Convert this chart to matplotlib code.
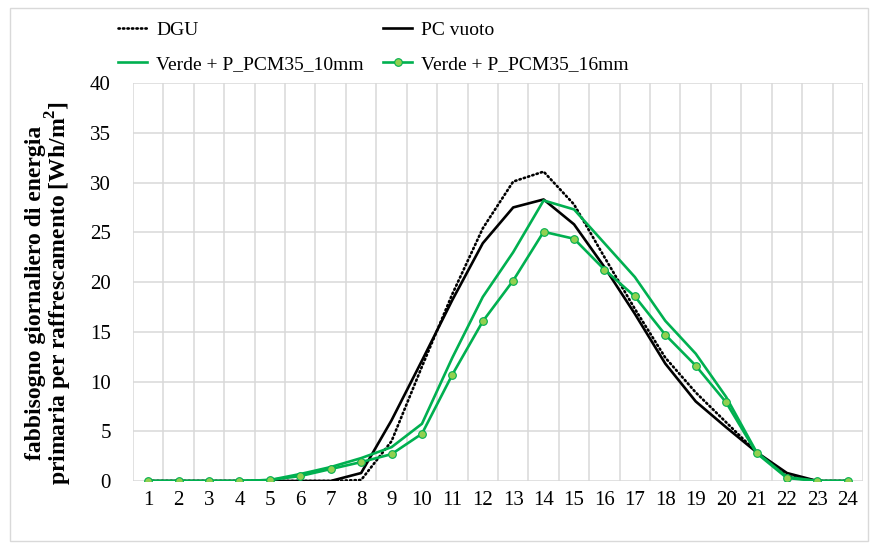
import numpy as np
import matplotlib.pyplot as plt
from matplotlib.patches import Rectangle

plt.rcParams['font.family'] = ['Liberation Serif', 'DejaVu Serif']
plt.rcParams['mathtext.fontset'] = 'custom'
plt.rcParams['mathtext.rm'] = 'Liberation Serif'
plt.rcParams['mathtext.bf'] = 'Liberation Serif:bold'

hours = list(range(1, 25))
dgu = [0, 0, 0, 0, 0, 0, 0, 0.1, 4.0, 11.5, 18.8, 25.4, 30.1, 31.1, 27.8, 22.5,
       17.3, 12.4, 8.9, 5.9, 2.9, 0.5, 0, 0]
pc_vuoto = [0, 0, 0, 0, 0, 0, 0, 0.8, 6.1, 12.1, 18.2, 23.9, 27.5, 28.3, 25.8, 21.5,
            16.8, 11.8, 8.0, 5.4, 2.9, 0.8, 0, 0]
verde_10 = [0, 0, 0, 0, 0.1, 0.7, 1.4, 2.3, 3.4, 5.75, 12.4, 18.5, 23.0, 28.2, 27.3, 23.9,
            20.5, 16.1, 12.8, 8.45, 2.9, 0.4, 0, 0]
verde_16 = [0, 0, 0, 0, 0.1, 0.5, 1.2, 1.9, 2.7, 4.75, 10.7, 16.05, 20.15, 25.05, 24.35, 21.25,
            18.55, 14.7, 11.6, 7.9, 2.8, 0.3, 0, 0]

green = '#00B050'
light_green = '#92D050'
grid_c = '#D9D9D9'

fig = plt.figure(figsize=(8.71, 5.43), dpi=100)
ax = fig.add_axes([0.1527, 0.1142, 0.8381, 0.7328])

l1, = ax.plot(hours, dgu, color='black', lw=1.9, linestyle=(0, (0.5, 1.2)),
              dash_capstyle='round', label='DGU')
l2, = ax.plot(hours, pc_vuoto, color='black', lw=1.9, label='PC vuoto')
l3, = ax.plot(hours, verde_10, color=green, lw=1.9, label='Verde + P_PCM35_10mm')
l4, = ax.plot(hours, verde_16, color=green, lw=1.9, marker='o', markersize=5.5,
              markerfacecolor=light_green, markeredgecolor=green, markeredgewidth=0.8,
              label='Verde + P_PCM35_16mm')

ax.set_xlim(0.5, 24.5)
ax.set_ylim(0, 40)
ax.set_xticks(hours)
ax.set_xticks(np.arange(0.5, 25, 1), minor=True)
ax.set_yticks(range(0, 41, 5))
ax.grid(which='minor', axis='x', color=grid_c, lw=1.1)
ax.grid(which='major', axis='y', color=grid_c, lw=1.1)
ax.tick_params(axis='both', which='both', length=0, labelsize=15)
ax.tick_params(axis='x', pad=7)
ax.tick_params(axis='y', pad=16)
for s in ax.spines.values():
    s.set_visible(False)
ax.set_axisbelow(True)

fig.text(0.057, 0.46, 'fabbisogno giornaliero di energia\nprimaria per raffrescamento [Wh/m$^\\mathbf{2}$]',
         rotation=90, ha='center', va='center', fontsize=17, fontweight='bold',
         linespacing=0.92)

# two legend columns placed separately
leg_kw = dict(loc='upper left', frameon=False, fontsize=14, handlelength=1.5,
              handletextpad=0.45, labelspacing=0.85, borderpad=0, borderaxespad=0)
leg1 = fig.legend(handles=[l1, l3], bbox_to_anchor=(118 / 871, 1 - 21 / 543), **leg_kw)
leg2 = fig.legend(handles=[l2, l4], bbox_to_anchor=(383 / 871, 1 - 21 / 543), **leg_kw)

fig.patches.append(Rectangle((10 / 871, 2 / 543), 858 / 871, 533 / 543,
                             transform=fig.transFigure, fill=False,
                             edgecolor=grid_c, lw=1))

fig.savefig('out.png', dpi=100)
